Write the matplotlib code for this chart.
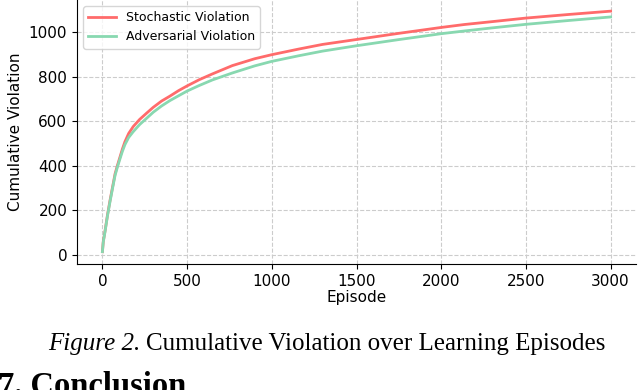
import matplotlib
matplotlib.use('Agg')
import matplotlib.pyplot as plt

# values
episodes = [0, 5, 16, 30, 45, 60, 75, 90, 104, 118, 133, 155, 182, 220, 261, 300, 349,
            398, 450, 500, 572, 650, 767, 900, 1000, 1158, 1300, 1500, 1744, 2000, 2135,
            2300, 2500, 2750, 3000]
stochastic = [15, 60, 110, 180, 245, 305, 365, 405, 440, 475, 508, 545, 576, 608, 636,
              662, 690, 712, 737, 758, 786, 812, 849, 880, 898, 923, 944, 966, 993, 1020,
              1033, 1046, 1062, 1078, 1093]
adversarial = [15, 58, 108, 176, 240, 300, 358, 398, 432, 465, 495, 527, 553, 585, 613,
               640, 668, 692, 714, 735, 760, 785, 816, 848, 868, 893, 914, 938, 965, 992,
               1004, 1018, 1034, 1051, 1067]

RED = "#ff6b6b"
GREEN = "#88d8b0"

fig = plt.figure(figsize=(6.38, 3.90), dpi=100)
ax = fig.add_axes([77 / 638, 1 - 264 / 390, (636 - 77) / 638, 264 / 390])

ax.plot(episodes, stochastic, color=RED, lw=2, label="Stochastic Violation")
ax.plot(episodes, adversarial, color=GREEN, lw=2, label="Adversarial Violation")

ax.set_xlim(-150, 3150)
ax.set_ylim(-40, 1143)
ax.set_xticks([0, 500, 1000, 1500, 2000, 2500, 3000])
ax.set_yticks([0, 200, 400, 600, 800, 1000])
ax.grid(True, linestyle='--', color='#cccccc', lw=0.8)
ax.set_axisbelow(True)
for side in ('top', 'right'):
    ax.spines[side].set_visible(False)
ax.tick_params(labelsize=11)
ax.set_xlabel("Episode", fontsize=11, labelpad=1)
ax.set_ylabel("Cumulative Violation", fontsize=11)

leg = ax.legend(loc='upper left', fontsize=9, frameon=True, handlelength=2.2,
                borderaxespad=0.5)
leg.get_frame().set_edgecolor('#cccccc')

# caption and section heading from the page
cap_y = 1 - 344 / 390
t1 = fig.text(48 / 638, cap_y, "Figure 2.", family='Liberation Serif', style='italic',
              fontsize=18, va='center', ha='left')
fig.canvas.draw()
bb = t1.get_window_extent()
fig.text((bb.x1 + 6) / 638, cap_y, "Cumulative Violation over Learning Episodes",
         family='Liberation Serif', fontsize=18, va='center', ha='left')
fig.text(-2 / 638, 1 - 371 / 390, "7. Conclusion", family='Liberation Serif',
         weight='bold', fontsize=23.5, va='top', ha='left')

fig.savefig("out.png", dpi=100)
